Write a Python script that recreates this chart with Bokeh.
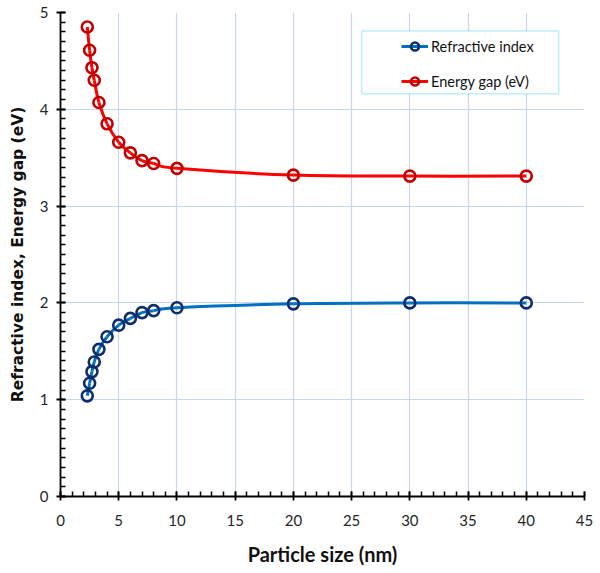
from bokeh.plotting import figure
from bokeh.models import (Range1d, FixedTicker, Legend, LegendItem, BoxAnnotation,
                          ColumnDataSource)
from bokeh.embed import file_html
from bokeh.resources import INLINE

# ---- data ----
particle_size = [2.3, 2.5, 2.7, 2.9, 3.3, 4, 5, 6, 7, 8, 10, 20, 30, 40]
refractive_index = [1.04, 1.17, 1.29, 1.39, 1.52, 1.65, 1.77, 1.84, 1.90, 1.92, 1.95, 1.99, 2.00, 2.00]
energy_gap = [4.85, 4.61, 4.43, 4.30, 4.07, 3.85, 3.66, 3.55, 3.47, 3.44, 3.39, 3.32, 3.31, 3.31]
x_ticks = [0, 5, 10, 15, 20, 25, 30, 35, 40, 45]
y_ticks = [0, 1, 2, 3, 4, 5]
series_names = ["Refractive index", "Energy gap (eV)"]

FONT = "Lato"


def smooth_segments(xs, ys):
    """Catmull-Rom style bezier segments (like a smoothed spreadsheet line)."""
    n = len(xs)
    d = dict(x0=[], y0=[], x1=[], y1=[], cx0=[], cy0=[], cx1=[], cy1=[])
    for i in range(n - 1):
        p0 = (xs[max(i - 1, 0)], ys[max(i - 1, 0)])
        p1 = (xs[i], ys[i])
        p2 = (xs[i + 1], ys[i + 1])
        p3 = (xs[min(i + 2, n - 1)], ys[min(i + 2, n - 1)])
        d["x0"].append(p1[0]); d["y0"].append(p1[1])
        d["x1"].append(p2[0]); d["y1"].append(p2[1])
        d["cx0"].append(p1[0] + (p2[0] - p0[0]) / 6.0)
        d["cy0"].append(p1[1] + (p2[1] - p0[1]) / 6.0)
        d["cx1"].append(p2[0] - (p3[0] - p1[0]) / 6.0)
        d["cy1"].append(p2[1] - (p3[1] - p1[1]) / 6.0)
    return ColumnDataSource(d)


p = figure(width=600, height=573, output_backend="svg", toolbar_location=None,
           x_range=Range1d(0, 45), y_range=Range1d(0, 5),
           min_border_left=60, min_border_right=16, min_border_top=12, min_border_bottom=77)
p.outline_line_color = None
p.background_fill_color = "white"
p.border_fill_color = "white"

# grids
for g in (p.xgrid, p.ygrid):
    g.grid_line_color = "#C8D6EE"
    g.grid_line_width = 1.2
p.xgrid.ticker = FixedTicker(ticks=x_ticks)
p.ygrid.ticker = FixedTicker(ticks=y_ticks)

# axes
p.xaxis.ticker = FixedTicker(ticks=x_ticks, minor_ticks=list(range(0, 46)))
p.yaxis.ticker = FixedTicker(ticks=y_ticks, minor_ticks=[i / 10 for i in range(0, 51)])
for ax in (p.xaxis[0], p.yaxis[0]):
    ax.axis_line_color = "black"
    ax.axis_line_width = 1.8
    ax.major_tick_line_color = "black"
    ax.major_tick_line_width = 1.8
    ax.minor_tick_line_color = "black"
    ax.minor_tick_line_width = 1.5
    ax.major_tick_in = 5
    ax.major_tick_out = 4
    ax.minor_tick_in = 5
    ax.minor_tick_out = 0
    ax.major_label_text_font = FONT
    ax.major_label_text_font_size = "15px"
    ax.major_label_text_color = "#262626"
    ax.axis_label_text_color = "#111111"
    ax.axis_label_text_font_style = "bold"

p.xaxis.major_label_standoff = 14
p.xaxis.axis_label = "Particle size (nm)"
p.xaxis.axis_label_text_font = FONT
p.xaxis.axis_label_text_font_size = "20px"
p.xaxis.axis_label_standoff = 13

p.yaxis.major_label_standoff = 8
p.yaxis.axis_label = "Refractive index, Energy gap (eV)"
p.yaxis.axis_label_text_font = "DejaVu Sans"
p.yaxis.axis_label_text_font_size = "15.5px"
p.yaxis.axis_label_standoff = 10

# series
blue_line, blue_mark = "#0070C0", "#0F2D69"
red_line, red_mark = "#FF0000", "#C00000"

b_src = smooth_segments(particle_size, refractive_index)
r_src = smooth_segments(particle_size, energy_gap)

b_curve = p.bezier(x0="x0", y0="y0", x1="x1", y1="y1", cx0="cx0", cy0="cy0",
                   cx1="cx1", cy1="cy1", source=b_src, line_color=blue_line, line_width=3)
r_curve = p.bezier(x0="x0", y0="y0", x1="x1", y1="y1", cx0="cx0", cy0="cy0",
                   cx1="cx1", cy1="cy1", source=r_src, line_color=red_line, line_width=3)
b_pts = p.scatter(particle_size, refractive_index, size=11, marker="circle",
                  line_color=blue_mark, line_width=2.6, fill_color=None)
r_pts = p.scatter(particle_size, energy_gap, size=11, marker="circle",
                  line_color=red_mark, line_width=2.6, fill_color=None)

# legend box
box = BoxAnnotation(left=25.86, right=42.78, top=4.81, bottom=4.16,
                    fill_color="white", fill_alpha=1.0,
                    line_color="#33C3F0", line_width=1.5, level="annotation")
p.add_layout(box)

legend = Legend(items=[LegendItem(label=series_names[0], renderers=[b_curve, b_pts]),
                       LegendItem(label=series_names[1], renderers=[r_curve, r_pts])],
                location=(341, 405), padding=0, margin=0, spacing=15,
                glyph_width=27, glyph_height=20, label_height=20, label_standoff=3,
                label_text_font=FONT, label_text_font_size="14.5px",
                label_text_color="#111111",
                border_line_alpha=0, background_fill_alpha=0)
p.add_layout(legend)

open("out.html", "w").write(file_html(p, INLINE))
